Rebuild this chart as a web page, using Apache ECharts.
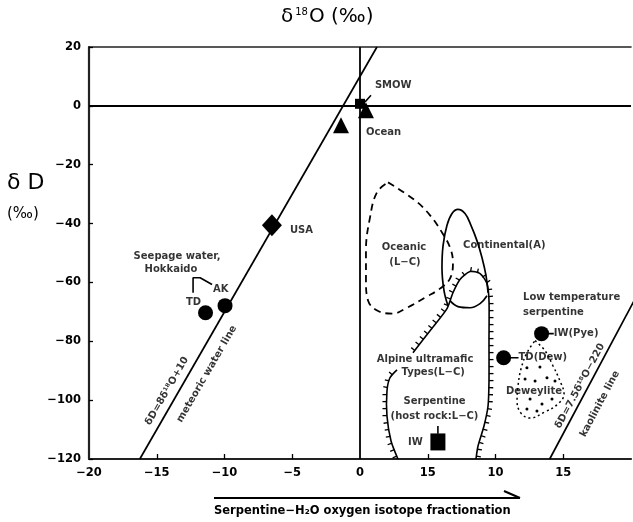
<!DOCTYPE html>
<html><head><meta charset="utf-8">
<script src="https://cdn.jsdelivr.net/npm/echarts@6/dist/echarts.min.js"></script>
<style>html,body{margin:0;padding:0;background:#fff}#c{width:633px;height:522px}</style>
</head><body><div id="c"></div>
<script>
// ---- data (δ18O, δD in ‰) ----
const xTickValues = [-20, -15, -10, -5, 0, 5, 10, 15];
const xTickLabels = ['−20', '−15', '−10', '−5', '0', '15', '10', '15'];
const xTickMarks = [-15, -10, -5, 5, 10, 15];
const meteoricLine = [[-16.25, -120], [1.25, 20]];
const kaoliniteLine = [[14.0, -120], [20.3, -65.6]];
const triangles = [[0.44, -1.5], [-1.4, -6.6]];
const smowSquare = [[0, 0.7]];
const diamonds = [[-6.5, -40.6]];
const circles = [[-9.96, -67.9], [-11.4, -70.3], [10.6, -85.6], [13.4, -77.4]];
const iwSquare = [[5.75, -114.2]];
const oceanic = [[2.07,-26.0],[4.06,-32.1],[5.17,-37.2],[6.05,-43.0],[6.64,-48.1],[6.86,-53.3],[6.64,-58.7],[5.90,-62.1],[4.94,-64.8],[3.47,-68.6],[2.4,-70.6],[1.3,-69.6],[0.6,-66.2],[0.44,-59.4],[0.44,-49.2],[0.74,-37.9],[1.25,-29.4],[2.07,-26.0]];
const continental = [[6.49,-67.9],[6.20,-62.8],[6.05,-55.0],[6.13,-47.5],[6.42,-40.6],[6.79,-36.6],[7.23,-35.2],[7.75,-36.6],[8.19,-40.6],[8.63,-45.8],[9.00,-51.5],[9.30,-57.7],[9.45,-63.5]];
const innerLoopBottom = [[6.64,-66.2],[7.23,-68.2],[8.12,-68.6],[8.86,-67.2],[9.37,-64.5]];
const hatchPaths = [
  [[2.80,-120],[2.29,-113.9],[1.99,-105.4],[1.99,-96.9],[2.21,-92.4],[2.73,-89.7]],
  [[3.91,-83.9],[5.17,-76.4],[6.42,-68.9],[6.86,-63.5],[7.38,-59.0],[8.12,-56.3],[8.86,-57.0],[9.37,-60.4],[9.52,-66.2],[9.52,-79.8],[9.52,-93.5],[9.45,-102.0],[9.15,-108.8],[8.71,-115.6],[8.56,-120]]
];
const deweylite = [[12.92,-79.8],[13.65,-83.2],[14.24,-88.3],[14.76,-93.5],[15.06,-97.9],[14.61,-101.3],[13.65,-104.0],[12.55,-106.1],[11.88,-104.4],[11.59,-100.3],[11.66,-95.2],[11.88,-89.4],[12.32,-83.9],[12.92,-79.8]];
const deweyliteDots = [[12.32,-89.0],[13.28,-88.7],[12.18,-92.8],[12.92,-93.5],[13.80,-92.4],[14.39,-93.5],[12.55,-99.6],[13.43,-101.3],[14.17,-99.6],[12.32,-103.0],[13.06,-103.7]];
const leaders = [
  [[13.7,-77.4],[14.3,-77.4]], [[11.0,-85.6],[11.7,-85.6]],
  [[-12.32,-63.5],[-12.32,-58.4],[-11.8,-58.4],[-10.92,-60.7]],
  [[0.37,1.3],[0.81,3.6]], [[5.75,-108.8],[5.75,-111.4]]
];
const annoText = ['SMOW','Ocean','USA','Seepage water,','Hokkaido','AK','TD','Oceanic','(L−C)','Continental(A)','Low temperature','serpentine','IW(Pye)','TD(Dew)','Deweylite','Alpine ultramafic','Types(L−C)','Serpentine','(host rock:L−C)','IW'];
const annoPos = [[1.1,7.1],[0.45,-9.0],[-5.17,-42.3],[-13.5,-51.2],[-13.95,-55.6],[-10.85,-62.5],[-12.84,-66.9],[3.25,-48.1],[3.32,-53.3],[10.65,-47.5],[12.03,-65.2],[12.03,-70.3],[14.3,-77.4],[11.7,-85.6],[12.84,-96.9],[4.8,-86.0],[5.4,-90.7],[5.5,-100.3],[5.5,-105.4],[3.54,-114.2]];
const annoAlign = ['left','left','left','center','center','left','left','center','center','center','left','left','left','left','center','center','center','center','center','left'];
const rotText = ['δD=8δ¹⁸O+10','meteoric water line','δD=7.5δ¹⁸O−220','kaolinite line'];
const rotPos = [[-14.24,-96.9],[-11.3,-91.1],[16.24,-95.2],[17.7,-101.3]];
const rotAngle = [60, 60, 62, 62];

const FONT = 'DejaVu Sans';
const INK = '#000';

function renderHatch(params, api) {
  const pts = hatchPaths[params.dataIndex].map(p => api.coord(p));
  const children = [{type:'polyline', shape:{points:pts, smooth:0.25}, style:{stroke:INK, lineWidth:1.6, fill:null}}];
  const step = 7, len = 4.5;
  let next = 3, walked = 0;
  for (let i = 0; i < pts.length - 1; i++) {
    const [x0,y0] = pts[i], [x1,y1] = pts[i+1];
    const dx = x1-x0, dy = y1-y0, L = Math.hypot(dx,dy);
    if (!L) continue;
    const ux = dx/L, uy = dy/L, nx = uy, ny = -ux;
    while (next <= walked + L) {
      const s = next - walked, px = x0+ux*s, py = y0+uy*s;
      children.push({type:'line', shape:{x1:px,y1:py,x2:px+nx*len,y2:py+ny*len}, style:{stroke:INK, lineWidth:1.3}});
      next += step;
    }
    walked += L;
  }
  return {type:'group', children};
}

const lineS = (data, extra) => Object.assign({type:'line', data, symbol:'none', silent:true, lineStyle:{color:INK, width:1.7}}, extra||{});
const mk = {color: INK, opacity: 1};
const leaderData = [];
leaders.forEach((l,i) => { if (i) leaderData.push('-'); l.forEach(p => leaderData.push(p)); });

const chart = echarts.init(document.getElementById('c'), null, {renderer:'canvas'});
chart.setOption({
  animation: false,
  backgroundColor: '#fff',
  title: {
    text: '{a|δ}{s|18}{a|O (‰)}', left: 276, top: 2,
    textStyle: {fontFamily: FONT, fontWeight: 'normal', color: INK, rich: {
      a: {fontSize: 20, fontFamily: FONT, color: INK},
      s: {fontSize: 10, fontFamily: FONT, color: INK, verticalAlign: 'top', padding: [0,1,0,2]}
    }}
  },
  grid: {left: 89, right: 2, top: 47, bottom: 63},
  xAxis: [{
    type: 'value', min: -20, max: 20, interval: 5, position: 'bottom',
    axisLine: {show: true, onZero: false, lineStyle: {color: '#222', width: 2.2}},
    axisTick: {show: true, inside: true, length: 5, customValues: xTickMarks, lineStyle: {color: INK, width: 1.3}},
    axisLabel: {customValues: xTickValues, margin: 8, color: INK, fontFamily: FONT, fontWeight: 'bold', fontSize: 11.5,
      formatter: v => { const i = xTickValues.indexOf(v); return i >= 0 ? xTickLabels[i] : ''; }},
    splitLine: {show: false}
  }, {
    type: 'value', min: -20, max: 20, position: 'top',
    axisLine: {show: true, onZero: false, lineStyle: {color: '#222', width: 1.6}},
    axisTick: {show: false}, axisLabel: {show: false}, splitLine: {show: false}
  }],
  yAxis: {
    type: 'value', min: -120, max: 20, interval: 20,
    axisLine: {show: true, onZero: false, lineStyle: {color: '#222', width: 2.2}},
    axisTick: {show: true, inside: true, length: 4, lineStyle: {color: INK, width: 1.3}},
    axisLabel: {margin: 8, color: INK, fontFamily: FONT, fontWeight: 'bold', fontSize: 11.5,
      formatter: v => String(v).replace('-', '−')},
    splitLine: {show: false}
  },
  graphic: [
    {type:'text', left: 7, top: 172, style:{text:'δ D', font:'22px "DejaVu Sans"', fill: INK}},
    {type:'text', left: 7, top: 207, style:{text:'(‰)', font:'15px "DejaVu Sans"', fill: INK}},
    {type:'line', shape:{x1:214, y1:498, x2:520, y2:498}, style:{stroke: INK, lineWidth: 2}},
    {type:'line', shape:{x1:504, y1:491, x2:520, y2:498}, style:{stroke: INK, lineWidth: 2}},
    {type:'text', left: 214, top: 505, style:{text:'Serpentine−H₂O oxygen isotope fractionation', font:'bold 11.5px "DejaVu Sans"', fill: INK}}
  ],
  series: [
    lineS(meteoricLine, {markLine: {silent: true, symbol: 'none', label: {show: false},
      lineStyle: {color: INK, width: 1.8, type: 'solid'}, data: [{yAxis: 0}, {xAxis: 0}]}}),
    lineS(kaoliniteLine, {clip: true}),
    lineS(oceanic, {smooth: 0.4, lineStyle: {color: INK, width: 1.8, type: [7, 5]}}),
    lineS(continental, {smooth: 0.4}),
    lineS(innerLoopBottom, {smooth: 0.4}),
    {type: 'custom', renderItem: renderHatch, data: hatchPaths.map(p => p[0]), silent: true},
    lineS(deweylite, {smooth: 0.4, lineStyle: {color: INK, width: 1.5, type: [2, 3]}}),
    {type: 'scatter', data: deweyliteDots, symbol: 'circle', symbolSize: 3, itemStyle: mk, silent: true},
    lineS(leaderData, {lineStyle: {color: INK, width: 1.6}}),
    {type: 'scatter', data: triangles, symbol: 'triangle', symbolSize: 16, itemStyle: mk, silent: true},
    {type: 'scatter', data: smowSquare, symbol: 'rect', symbolSize: 10, itemStyle: mk, silent: true},
    {type: 'scatter', data: diamonds, symbol: 'diamond', symbolSize: [20, 22], itemStyle: mk, silent: true},
    {type: 'scatter', data: circles, symbol: 'circle', symbolSize: 15, itemStyle: mk, silent: true},
    {type: 'scatter', data: iwSquare, symbol: 'rect', symbolSize: [15, 17], itemStyle: mk, silent: true},
    {type: 'scatter', silent: true, symbolSize: 1, itemStyle: {color: 'rgba(0,0,0,0)'},
      data: annoText.map((t, i) => ({value: annoPos[i], name: t, label: {align: annoAlign[i]}})),
      label: {show: true, position: 'inside', formatter: p => p.name, color: INK, fontFamily: FONT, fontWeight: 'bold', fontSize: 10, verticalAlign: 'middle'}},
    {type: 'scatter', silent: true, symbolSize: 1, itemStyle: {color: 'rgba(0,0,0,0)'},
      data: rotText.map((t, i) => ({value: rotPos[i], name: t, label: {rotate: rotAngle[i]}})),
      label: {show: true, position: 'inside', formatter: p => p.name, color: INK, fontFamily: FONT, fontWeight: 'bold', fontSize: 10, align: 'center', verticalAlign: 'middle'}}
  ]
});
</script></body></html>
